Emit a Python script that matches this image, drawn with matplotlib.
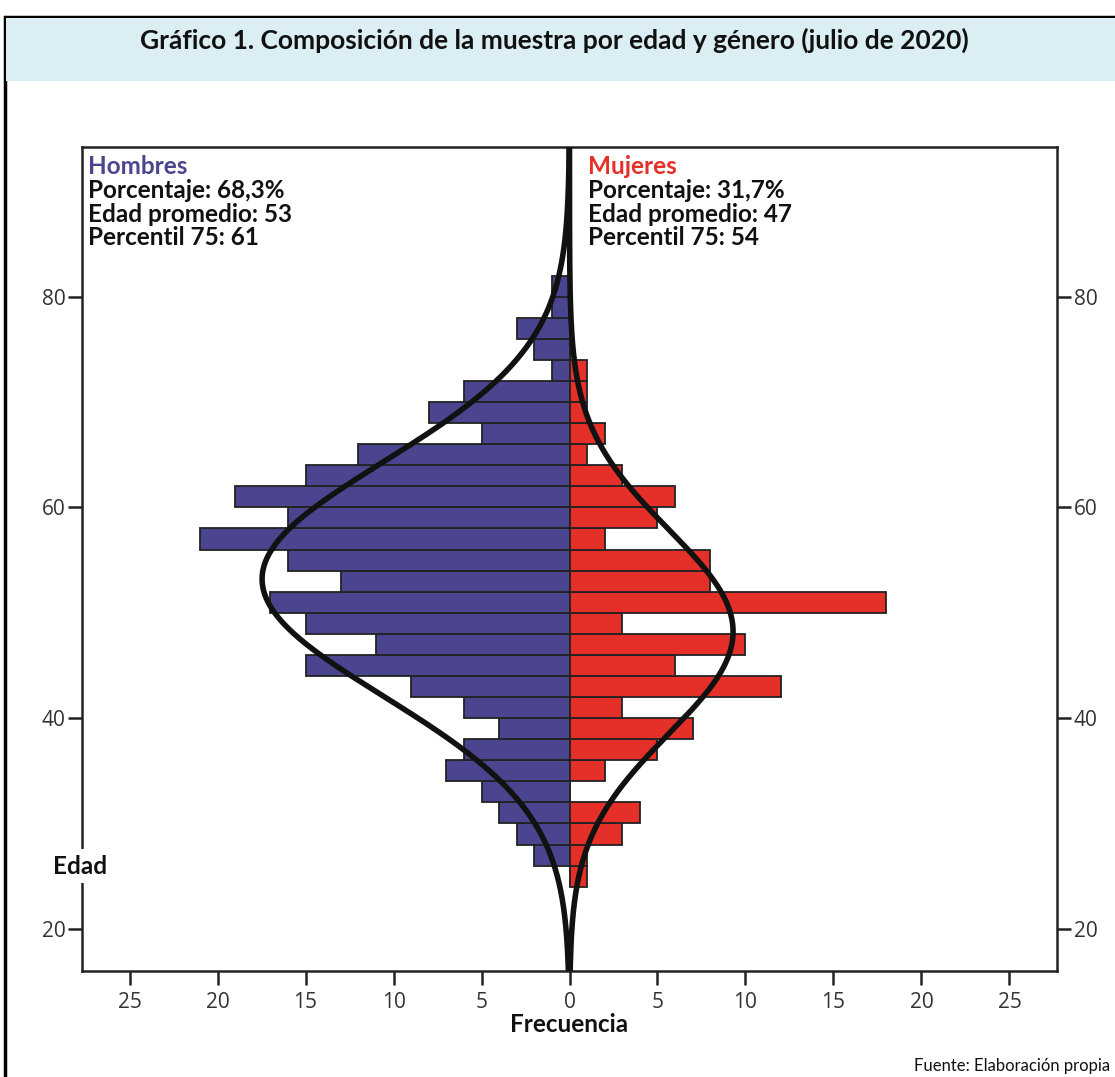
import numpy as np
import matplotlib
matplotlib.use("Agg")
import matplotlib.pyplot as plt
from matplotlib.patches import Rectangle

plt.rcParams["font.family"] = ["Lato", "DejaVu Sans"]

# Data: 2-year age bins (lower edge) and counts
bin_start = [24, 26, 28, 30, 32, 34, 36, 38, 40, 42, 44, 46, 48, 50, 52,
             54, 56, 58, 60, 62, 64, 66, 68, 70, 72, 74, 76, 78, 80]
hombres = [0, 2, 3, 4, 5, 7, 6, 4, 6, 9, 15, 11, 15, 17, 13,
           16, 21, 16, 19, 15, 12, 5, 8, 6, 1, 2, 3, 1, 1]
mujeres = [1, 1, 3, 4, 0, 2, 5, 7, 3, 12, 6, 10, 3, 18, 8,
           8, 2, 5, 6, 3, 1, 2, 1, 1, 1, 0, 0, 0, 0]
BIN_WIDTH = 2

# normal curve fit (mean, sd)
curve_h = (53.2, 11.1)
curve_m = (48.2, 9.7)

x_ticks = [-25, -20, -15, -10, -5, 0, 5, 10, 15, 20, 25]
y_ticks = [20, 40, 60, 80]

texto_h = ["Porcentaje: 68,3%", "Edad promedio: 53", "Percentil 75: 61"]
texto_m = ["Porcentaje: 31,7%", "Edad promedio: 47", "Percentil 75: 54"]

AZUL = "#4B458F"
ROJO = "#E5302A"

fig = plt.figure(figsize=(11.15, 10.77), dpi=100)

# outer frame and header band
frame = Rectangle((5 / 1115, -0.1), 1.2, 1.1 - 17 / 1077, transform=fig.transFigure,
                  facecolor="white", edgecolor="black", linewidth=2.5, zorder=-3)
band = Rectangle((6 / 1115, 1 - 81 / 1077), 1.2, 63 / 1077, transform=fig.transFigure,
                 facecolor="#DAEEF3", edgecolor="none", zorder=-2)
fig.add_artist(frame)
fig.add_artist(band)
fig.text(0.497, 1 - 40 / 1077, "Gráfico 1. Composición de la muestra por edad y género (julio de 2020)",
         ha="center", va="center", fontsize=19, fontweight="bold", color="#111111")

ax = fig.add_axes([82 / 1115, 1 - 971 / 1077, (1057 - 82) / 1115, (971 - 147) / 1077])
ax.set_zorder(2)

y = np.array(bin_start)
ax.barh(y, -np.array(hombres), height=BIN_WIDTH, align="edge", color=AZUL,
        edgecolor="#222222", linewidth=1.3, zorder=2)
ax.barh(y, mujeres, height=BIN_WIDTH, align="edge", color=ROJO,
        edgecolor="#222222", linewidth=1.3, zorder=2)

yy = np.linspace(15, 96, 600)
n_h = sum(hombres)
n_m = sum(mujeres)
f_h = n_h * BIN_WIDTH / (curve_h[1] * np.sqrt(2 * np.pi)) * np.exp(-0.5 * ((yy - curve_h[0]) / curve_h[1]) ** 2)
f_m = n_m * BIN_WIDTH / (curve_m[1] * np.sqrt(2 * np.pi)) * np.exp(-0.5 * ((yy - curve_m[0]) / curve_m[1]) ** 2)
ax.plot(-f_h, yy, color="#111111", linewidth=4, zorder=3)
ax.plot(f_m, yy, color="#111111", linewidth=4, zorder=3)

ax.set_xlim(-27.7, 27.7)
ax.set_ylim(16, 94.2)

ax.set_xticks(x_ticks)
ax.set_xticklabels([str(abs(t)) for t in x_ticks])
ax.set_yticks(y_ticks)
ax.tick_params(axis="both", direction="out", length=10, width=1.8, labelsize=15,
               colors="#222222", labelcolor="#333333")
ax.tick_params(axis="y", right=True, labelright=True, pad=2)
ax.tick_params(axis="x", pad=5)
for lab in ax.get_xticklabels() + ax.get_yticklabels():
    lab.set_family(["Open Sans", "DejaVu Sans"])
for s in ax.spines.values():
    s.set_linewidth(1.8)
    s.set_color("#222222")

ax.set_xlabel("Frecuencia", fontsize=17.5, fontweight="bold", labelpad=0, color="#111111")

# group labels
FS = 17.5
ax.text(0.006, 0.99, "Hombres", transform=ax.transAxes, ha="left", va="top",
        fontsize=FS, fontweight="bold", color=AZUL)
ax.text(0.519, 0.99, "Mujeres", transform=ax.transAxes, ha="left", va="top",
        fontsize=FS, fontweight="bold", color=ROJO)
for i, (th, tm) in enumerate(zip(texto_h, texto_m)):
    yl = 0.99 - (i + 1) * 0.0287
    ax.text(0.006, yl, th, transform=ax.transAxes, ha="left", va="top",
            fontsize=FS, fontweight="bold", color="#111111")
    ax.text(0.519, yl, tm, transform=ax.transAxes, ha="left", va="top",
            fontsize=FS, fontweight="bold", color="#111111")

fig.text(53 / 1115, 1 - 866 / 1077, "Edad", ha="left", va="center", zorder=5,
         fontsize=17.5, fontweight="bold", color="#111111",
         bbox=dict(facecolor="white", edgecolor="none", pad=4))
fig.text(1110 / 1115, 1 - 1066 / 1077, "Fuente: Elaboración propia", ha="right", va="center",
         fontsize=12, color="#111111")

fig.savefig("out.png", dpi=100)
